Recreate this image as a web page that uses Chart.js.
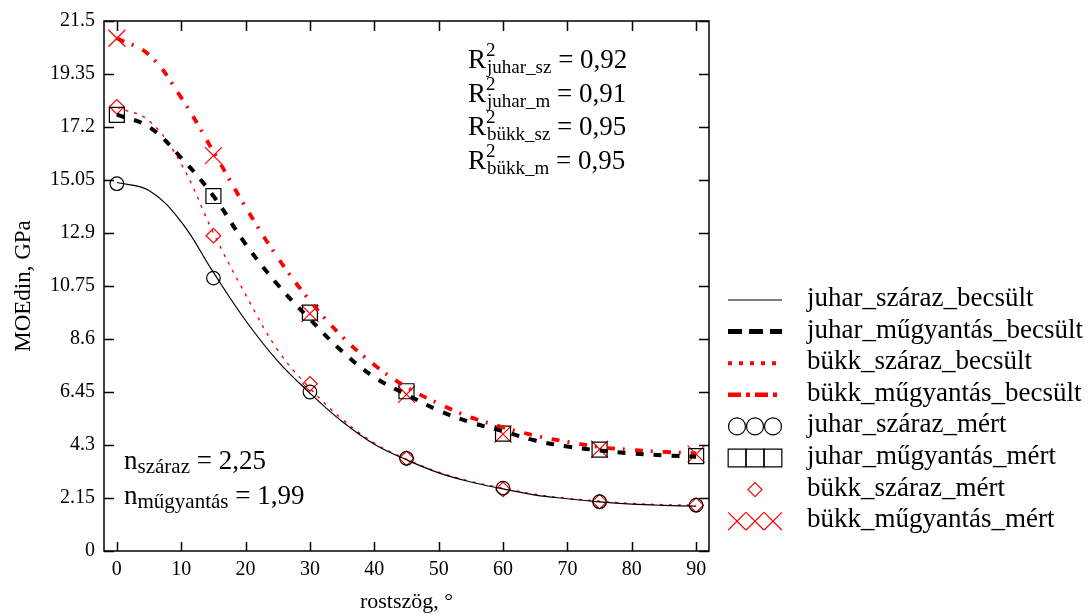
<!DOCTYPE html>
<html>
<head>
<meta charset="utf-8">
<script src="https://cdn.jsdelivr.net/npm/chart.js@4.4.0/dist/chart.umd.min.js"></script>
<style>
  html, body { margin: 0; padding: 0; background: #fff; }
  #wrap { width: 1092px; height: 615px; }
</style>
</head>
<body>
<div id="wrap"><canvas id="moe" width="1092" height="615"></canvas></div>
<script>
// rostszög (°) a becsült görbékhez és a mért pontokhoz
const angles = [0, 5, 10, 15, 20, 25, 30, 35, 40, 45, 50, 55, 60, 65, 70, 75, 80, 85, 90];
const measuredAngles = [0, 15, 30, 45, 60, 75, 90];

// becsült MOEdin, GPa
const juharSzarazBecsult = [14.95, 14.62, 13.35, 11.3, 9.35, 7.7, 6.4, 5.25, 4.33, 3.7, 3.17, 2.8, 2.52, 2.27, 2.12, 1.99, 1.9, 1.85, 1.82];
const juharMugyantasBecsult = [17.7, 17.2, 15.95, 14.4, 12.45, 10.8, 9.4, 8.1, 7.05, 6.35, 5.7, 5.22, 4.86, 4.48, 4.24, 4.08, 3.96, 3.88, 3.82];
const bukkSzarazBecsult = [18.0, 17.45, 15.7, 12.9, 10.4, 8.15, 6.6, 5.35, 4.38, 3.72, 3.2, 2.82, 2.55, 2.3, 2.14, 2.02, 1.93, 1.88, 1.86];
const bukkMugyantasBecsult = [20.8, 20.13, 18.39, 16.2, 13.95, 11.9, 10.15, 8.7, 7.55, 6.65, 5.98, 5.42, 5.02, 4.68, 4.43, 4.22, 4.1, 4.02, 3.96];

// mért MOEdin, GPa
const juharSzarazMert = [14.9, 11.07, 6.45, 3.76, 2.55, 2.0, 1.86];
const juharMugyantasMert = [17.69, 14.4, 9.67, 6.48, 4.76, 4.11, 3.85];
const bukkSzarazMert = [18.02, 12.79, 6.78, 3.76, 2.5, 2.0, 1.86];
const bukkMugyantasMert = [20.8, 16.04, 9.63, 6.35, 4.74, 4.13, 3.93];

// tengelyosztások
const yTickValues = [0, 2.15, 4.3, 6.45, 8.6, 10.75, 12.9, 15.05, 17.2, 19.35, 21.5];
const yTickLabels = ['0', '2.15', '4.3', '6.45', '8.6', '10.75', '12.9', '15.05', '17.2', '19.35', '21.5'];
const xTickValues = [0, 10, 20, 30, 40, 50, 60, 70, 80, 90];

// illeszkedés és Hankinson-kitevő
const r2Names = ['juhar_sz', 'juhar_m', 'bükk_sz', 'bükk_m'];
const r2Values = ['0,92', '0,91', '0,95', '0,95'];
const nNames = ['száraz', 'műgyantás'];
const nValues = ['2,25', '1,99'];

const SERIF = '"Liberation Serif", "Times New Roman", serif';
const RED = '#ff0000';

const pts = (xs, ys) => xs.map((x, i) => ({ x: x, y: ys[i] }));

function curve(label, ys, color, width, dash, legendWidth, legendDash) {
    return {
        label: label,
        data: pts(angles, ys),
        showLine: true,
        borderColor: color,
        borderWidth: width,
        borderDash: dash,
        pointRadius: 0,
        tension: 0.4,
        fill: false,
        legendWidth: legendWidth,
        legendDash: legendDash
    };
}

function marks(label, ys, color, style, radius, legendRadius, repeat) {
    return {
        label: label,
        data: pts(measuredAngles, ys),
        showLine: false,
        pointStyle: style,
        pointRadius: radius,
        pointBorderColor: color,
        pointBackgroundColor: 'rgba(0,0,0,0)',
        pointBorderWidth: 1.2,
        borderColor: color,
        legendRadius: legendRadius,
        legendRepeat: repeat
    };
}

// jelmagyarázat a rajzterület jobb oldalán
const sideLegend = {
    id: 'sideLegend',
    afterDraw(chart) {
        const ctx = chart.ctx;
        const x0 = 728, x1 = 782;
        ctx.save();
        chart.data.datasets.forEach((ds, i) => {
            const base = 306 + i * 31.6;
            const cy = base - 6;
            ctx.font = '27px ' + SERIF;
            ctx.textBaseline = 'alphabetic';
            ctx.textAlign = 'left';
            ctx.fillStyle = '#000';
            ctx.fillText(ds.label, 807, base);
            ctx.strokeStyle = ds.borderColor;
            if (ds.showLine) {
                ctx.lineWidth = ds.legendWidth;
                ctx.setLineDash(ds.legendDash);
                ctx.beginPath();
                ctx.moveTo(x0, cy);
                ctx.lineTo(x1, cy);
                ctx.stroke();
                ctx.setLineDash([]);
            } else {
                const n = ds.legendRepeat;
                const w = (x1 - x0) / 3;
                ctx.fillStyle = 'rgba(0,0,0,0)';
                ctx.lineWidth = 1.2;
                for (let k = 0; k < n; k++) {
                    const cx = n === 1 ? (x0 + x1) / 2 : x0 + w / 2 + k * w;
                    Chart.helpers.drawPoint(ctx, {
                        pointStyle: ds.pointStyle,
                        radius: ds.legendRadius,
                        borderWidth: 1.2
                    }, cx, cy);
                }
            }
        });
        ctx.restore();
    }
};

// keret, befelé mutató osztásjelek és a szöveges feliratok
const frame = {
    id: 'frame',
    afterDraw(chart) {
        const { ctx, chartArea: a, scales: { x, y } } = chart;
        ctx.save();
        ctx.strokeStyle = '#000';
        ctx.lineWidth = 1.5;
        ctx.strokeRect(a.left, a.top, a.right - a.left, a.bottom - a.top);
        ctx.beginPath();
        xTickValues.forEach(v => {
            const px = Math.round(x.getPixelForValue(v)) + 0.5;
            ctx.moveTo(px, a.bottom); ctx.lineTo(px, a.bottom - 9);
            ctx.moveTo(px, a.top); ctx.lineTo(px, a.top + 10);
        });
        yTickValues.forEach(v => {
            const py = Math.round(y.getPixelForValue(v)) + 0.5;
            ctx.moveTo(a.left, py); ctx.lineTo(a.left + 10, py);
            ctx.moveTo(a.right, py); ctx.lineTo(a.right - 10, py);
        });
        ctx.stroke();

        ctx.fillStyle = '#000';
        ctx.textBaseline = 'alphabetic';
        ctx.textAlign = 'left';
        const big = '27px ' + SERIF;
        const small = '19px ' + SERIF;

        // R² sorok
        r2Names.forEach((name, i) => {
            const base = 68 + i * 33.6;
            let cx = 468;
            ctx.font = big;
            ctx.fillText('R', cx, base);
            cx += ctx.measureText('R').width;
            ctx.font = small;
            ctx.fillText('2', cx, base - 12);
            ctx.fillText(name, cx + 1, base + 5);
            cx += 1 + ctx.measureText(name).width;
            ctx.font = big;
            ctx.fillText(' = ' + r2Values[i], cx, base);
        });

        // Hankinson-kitevők
        nNames.forEach((name, i) => {
            const base = 469 + i * 34.5;
            let cx = 124;
            ctx.font = big;
            ctx.fillText('n', cx, base);
            cx += ctx.measureText('n').width;
            ctx.font = '21px ' + SERIF;
            ctx.fillText(name, cx, base + 4);
            cx += ctx.measureText(name).width;
            ctx.font = big;
            ctx.fillText(' = ' + nValues[i], cx, base);
        });
        ctx.restore();
    }
};

new Chart(document.getElementById('moe'), {
    type: 'scatter',
    data: {
        datasets: [
            curve('juhar_száraz_becsült', juharSzarazBecsult, '#000', 1.2, [], 1.2, []),
            curve('juhar_műgyantás_becsült', juharMugyantasBecsult, '#000', 4, [8, 10], 5, [14, 7]),
            curve('bükk_száraz_becsült', bukkSzarazBecsult, RED, 1.4, [3, 6], 4, [4, 7]),
            curve('bükk_műgyantás_becsült', bukkMugyantasBecsult, RED, 3.8, [8, 8, 2, 10], 4.5, [13, 5, 4, 5]),
            marks('juhar_száraz_mért', juharSzarazMert, '#000', 'circle', 6.8, 8.5, 3),
            marks('juhar_műgyantás_mért', juharMugyantasMert, '#000', 'rect', 10.6, 12.5, 3),
            marks('bükk_száraz_mért', bukkSzarazMert, RED, 'rectRot', 7.3, 7, 1),
            marks('bükk_műgyantás_mért', bukkMugyantasMert, RED, 'crossRot', 12, 12.5, 3)
        ]
    },
    options: {
        responsive: false,
        animation: false,
        layout: { padding: { top: 17, right: 383, left: 0, bottom: 0 } },
        plugins: {
            legend: { display: false },
            tooltip: { enabled: false }
        },
        scales: {
            x: {
                type: 'linear',
                min: -2,
                max: 92,
                afterFit: s => { s.height = 64; },
                afterBuildTicks: s => { s.ticks = xTickValues.map(v => ({ value: v })); },
                grid: { display: false, drawTicks: false },
                border: { display: false },
                ticks: { color: '#000', padding: 7, font: { family: SERIF, size: 20 } },
                title: {
                    display: true,
                    text: 'rostszög, °',
                    color: '#000',
                    padding: { top: 0, bottom: 0 },
                    font: { family: SERIF, size: 22 }
                }
            },
            y: {
                type: 'linear',
                min: 0,
                max: 21.5,
                afterFit: s => { s.width = 104; },
                afterBuildTicks: s => { s.ticks = yTickValues.map(v => ({ value: v })); },
                grid: { display: false, drawTicks: false },
                border: { display: false },
                ticks: {
                    color: '#000',
                    padding: 9,
                    font: { family: SERIF, size: 20 },
                    callback: (v, i) => yTickLabels[i]
                },
                title: {
                    display: true,
                    text: 'MOEdin, GPa',
                    color: '#000',
                    padding: { top: 10, bottom: 0 },
                    font: { family: SERIF, size: 23 }
                }
            }
        }
    },
    plugins: [frame, sideLegend]
});
</script>
</body>
</html>
